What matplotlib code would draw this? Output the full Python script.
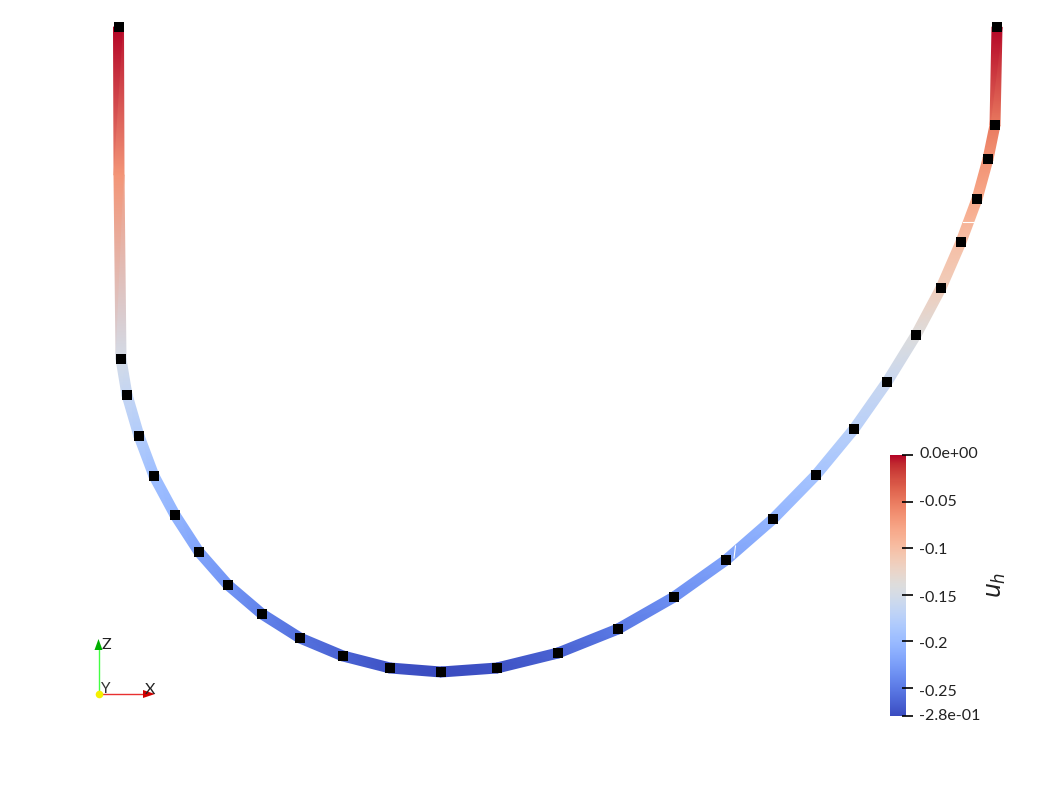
import numpy as np
import matplotlib
matplotlib.use('Agg')
import matplotlib.pyplot as plt
from matplotlib.colors import Normalize
from matplotlib.cm import ScalarMappable
from matplotlib.tri import Triangulation

W, H = 1057, 793

# nodes of the curve in screen pixels, with the solution value u_h at each
node_x = [118.5, 119, 121, 127, 139, 154, 175, 199, 228, 262, 300, 343, 390, 441,
          497, 558, 618, 674, 726, 773, 816, 854, 887, 916, 941, 961, 977, 988, 995, 997]
node_y = [27, 175, 359, 395, 436, 476, 515, 552, 585, 614, 638, 656, 668, 672,
          668, 653, 629, 597, 560, 519, 475, 429, 382, 335, 288, 242, 199, 159, 125, 27]
node_u = [0.0, -0.067, -0.15, -0.165, -0.18, -0.195, -0.205, -0.22, -0.23, -0.245, -0.255, -0.265, -0.275, -0.28,
          -0.275, -0.265, -0.25, -0.235, -0.22, -0.205, -0.19, -0.175, -0.16, -0.14, -0.115, -0.10, -0.08, -0.065, -0.05, 0.0]
# the kink on the left leg carries no marker
no_marker = [1]

u_min, u_max = -0.28, 0.0
tick_values = [0.0, -0.05, -0.1, -0.15, -0.2, -0.25, -0.28]
tick_labels = ['0.0e+00', '-0.05', '-0.1', '-0.15', '-0.2', '-0.25', '-2.8e-01']

plt.rcParams['font.family'] = ['Lato', 'DejaVu Sans']
cmap = plt.get_cmap('coolwarm')

fig = plt.figure(figsize=(W / 100, H / 100), dpi=100)
ax = fig.add_axes([0, 0, 1, 1])
ax.set_xlim(0, W)
ax.set_ylim(H, 0)
ax.axis('off')


def ribbon(x, y, u, width):
    # turn a polyline into a strip of triangles so the colour runs along it
    pts = np.column_stack([x, y]).astype(float)
    tang = np.gradient(pts, axis=0)
    tang /= np.linalg.norm(tang, axis=1, keepdims=True)
    norm = np.column_stack([-tang[:, 1], tang[:, 0]])
    a = pts + norm * width / 2
    b = pts - norm * width / 2
    vx = np.empty(2 * len(pts))
    vy = np.empty(2 * len(pts))
    vx[0::2], vx[1::2] = a[:, 0], b[:, 0]
    vy[0::2], vy[1::2] = a[:, 1], b[:, 1]
    tris = []
    for i in range(len(pts) - 1):
        k = 2 * i
        tris.append([k, k + 1, k + 2])
        tris.append([k + 1, k + 3, k + 2])
    return Triangulation(vx, vy, tris), np.repeat(u, 2)


tri, vals = ribbon(node_x, node_y, node_u, 10)
ax.tripcolor(tri, vals, shading='gouraud', cmap=cmap, vmin=u_min, vmax=u_max, zorder=2)

# two small cracks in the ribbon
ax.plot([735.5, 734], [546, 558], color='white', lw=0.8, zorder=3)
ax.plot([963, 974], [221.5, 221.5], color='white', lw=0.8, zorder=3)

mx = [v for i, v in enumerate(node_x) if i not in no_marker]
my = [v for i, v in enumerate(node_y) if i not in no_marker]
ax.scatter(mx, my, marker='s', s=52, color='black', linewidths=0, zorder=4)

# orientation triad
ax.plot([98.5, 98.5], [694, 650], color='#44ff44', lw=1.0, zorder=3)
ax.plot([99, 144], [694, 694], color='#e83030', lw=1.0, zorder=3)
ax.fill([94.5, 102.5, 98.5], [650, 650, 639], color='#00b000', lw=0, zorder=4)
ax.fill([143, 143, 155], [690, 698, 694], color='#d00000', lw=0, zorder=4)
ax.scatter([99], [694], marker='o', s=30, color='#f5f000', linewidths=0, zorder=5)
ax.text(102, 645, 'Z', fontsize=11.5, color='#222222', ha='left', va='center', zorder=6)
ax.text(101, 689, 'Y', fontsize=11, color='#333333', ha='left', va='center', zorder=6)
ax.text(145, 689.5, 'X', fontsize=11.5, color='#222222', ha='left', va='center', zorder=6)

# colour bar
cax = fig.add_axes([890 / W, 1 - 716 / H, 16 / W, 261 / H])
cb = fig.colorbar(ScalarMappable(Normalize(u_min, u_max), cmap), cax=cax)
cb.outline.set_visible(False)
cb.set_ticks(tick_values)
cb.set_ticklabels([])
cax.tick_params(length=0)
cax.hlines(tick_values, 0.75, 1.45, transform=cax.get_yaxis_transform(),
           color='black', lw=1.2, clip_on=False, zorder=5)

label_y = [454.5, 502.5, 550.5, 597.5, 644.5, 691.5, 716]
for val, lab, ly in zip(tick_values, tick_labels, label_y):
    ax.text(919, ly, lab, fontsize=11.5, color='#222222', ha='left', va='center')
ax.text(997, 585, r'$u_h$', fontsize=17, color='#222222', rotation=90, ha='center', va='center',
        math_fontfamily='dejavusans')

fig.savefig('out.png', dpi=100, facecolor='white')
